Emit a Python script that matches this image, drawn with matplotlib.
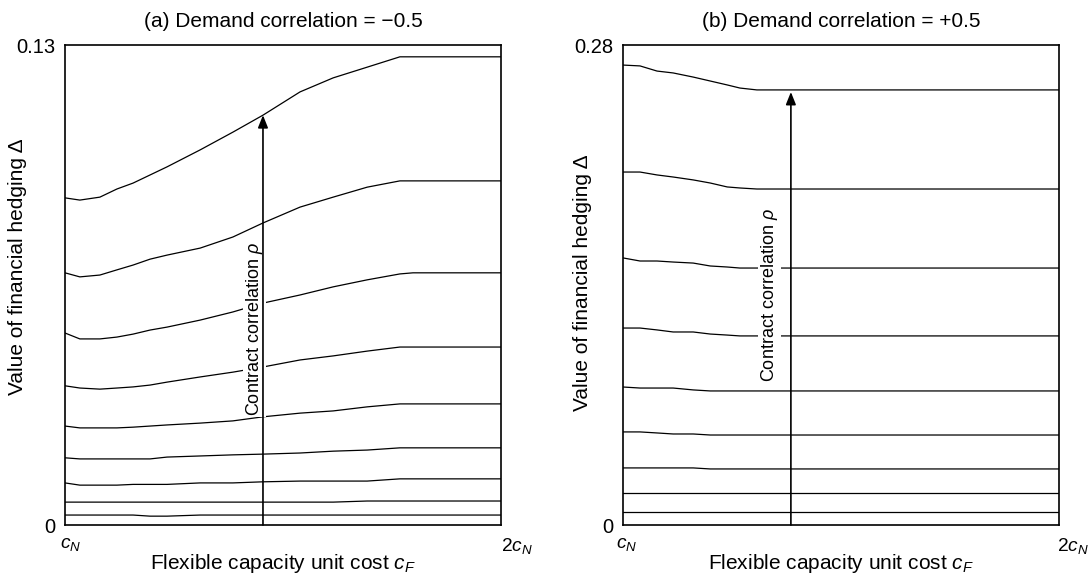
import matplotlib
matplotlib.use("Agg")
import matplotlib.pyplot as plt
import matplotlib.transforms as mtransforms

plt.rcParams['font.family'] = ['Liberation Sans', 'DejaVu Sans']
plt.rcParams['mathtext.fontset'] = 'custom'
plt.rcParams['mathtext.rm'] = 'Liberation Sans'
plt.rcParams['mathtext.it'] = 'Liberation Sans:italic'
plt.rcParams['mathtext.bf'] = 'Liberation Sans:bold'

# ---------------- data ----------------
# x in units of c_N (from c_N to 2 c_N)
x_left = [1.000, 1.034, 1.080, 1.119, 1.156, 1.195, 1.234, 1.310, 1.385,
          1.454, 1.539, 1.615, 1.693, 1.768, 1.798, 2.000]
left_curves = [
    [0.0886, 0.0880, 0.0888, 0.0910, 0.0926, 0.0948, 0.0970, 0.1016, 0.1064,
     0.1110, 0.1173, 0.1211, 0.1240, 0.1268, 0.1268, 0.1268],
    [0.0683, 0.0672, 0.0677, 0.0691, 0.0704, 0.0720, 0.0731, 0.0750, 0.0780,
     0.0818, 0.0861, 0.0888, 0.0915, 0.0932, 0.0932, 0.0932],
    [0.0520, 0.0504, 0.0504, 0.0509, 0.0517, 0.0528, 0.0536, 0.0555, 0.0577,
     0.0601, 0.0623, 0.0645, 0.0664, 0.0680, 0.0683, 0.0683],
    [0.0377, 0.0371, 0.0368, 0.0371, 0.0374, 0.0379, 0.0387, 0.0401, 0.0414,
     0.0428, 0.0447, 0.0458, 0.0471, 0.0482, 0.0482, 0.0482],
    [0.0268, 0.0263, 0.0263, 0.0263, 0.0265, 0.0268, 0.0271, 0.0276, 0.0282,
     0.0293, 0.0303, 0.0309, 0.0320, 0.0328, 0.0328, 0.0328],
    [0.0182, 0.0179, 0.0179, 0.0179, 0.0179, 0.0179, 0.0184, 0.0187, 0.0190,
     0.0192, 0.0195, 0.0200, 0.0203, 0.0209, 0.0209, 0.0209],
    [0.0114, 0.0108, 0.0108, 0.0108, 0.0110, 0.0110, 0.0110, 0.0114, 0.0114,
     0.0117, 0.0119, 0.0119, 0.0119, 0.0125, 0.0125, 0.0125],
    [0.0062, 0.0062, 0.0062, 0.0062, 0.0062, 0.0062, 0.0062, 0.0062, 0.0062,
     0.0062, 0.0062, 0.0062, 0.0065, 0.0065, 0.0065, 0.0065],
    [0.0027, 0.0027, 0.0027, 0.0027, 0.0027, 0.0024, 0.0024, 0.0027, 0.0027,
     0.0027, 0.0027, 0.0027, 0.0027, 0.0027, 0.0027, 0.0027],
]

x_right = [1.000, 1.039, 1.078, 1.115, 1.161, 1.200, 1.239, 1.268, 1.307, 2.000]
right_curves = [
    [0.2683, 0.2678, 0.2648, 0.2637, 0.2613, 0.2590, 0.2567, 0.2549, 0.2538, 0.2538],
    [0.2059, 0.2059, 0.2042, 0.2030, 0.2013, 0.1995, 0.1972, 0.1966, 0.1960, 0.1960],
    [0.1558, 0.1540, 0.1540, 0.1534, 0.1528, 0.1511, 0.1505, 0.1499, 0.1499, 0.1499],
    [0.1149, 0.1149, 0.1138, 0.1126, 0.1126, 0.1114, 0.1108, 0.1103, 0.1103, 0.1103],
    [0.0805, 0.0799, 0.0799, 0.0799, 0.0788, 0.0782, 0.0782, 0.0782, 0.0782, 0.0782],
    [0.0543, 0.0543, 0.0537, 0.0531, 0.0531, 0.0525, 0.0525, 0.0525, 0.0525, 0.0525],
    [0.0333, 0.0333, 0.0333, 0.0333, 0.0333, 0.0327, 0.0327, 0.0327, 0.0327, 0.0327],
    [0.0187, 0.0187, 0.0187, 0.0187, 0.0187, 0.0187, 0.0187, 0.0187, 0.0187, 0.0187],
    [0.0076, 0.0076, 0.0076, 0.0076, 0.0076, 0.0076, 0.0076, 0.0076, 0.0076, 0.0076],
]

titles = ["(a) Demand correlation = \u22120.5", "(b) Demand correlation = +0.5"]
y_max = [0.13, 0.28]
y_tick_labels = [["0", "0.13"], ["0", "0.28"]]
x_tick_values = [1.0, 2.0]
x_tick_labels = ["$c_N$", "$2c_N$"]
arrow_x = [1.454, 1.385]
arrow_top = [0.1110, 0.2526]
arrow_text = "Contract correlation $\\rho$"
arrow_text_pos = [(1.434, 0.0530), (1.335, 0.1342)]
ylabel_pos = [(-0.110, 0.5375), (-0.094, 0.504)]
ylabel = "Value of financial hedging \u0394"
xlabel = "Flexible capacity unit cost $c_F$"

# ---------------- figure ----------------
fig = plt.figure(figsize=(10.89, 5.77), dpi=100)
ax_pos = [[0.0597, 0.0901, 0.4004, 0.8319], [0.5721, 0.0901, 0.4004, 0.8319]]
# horizontal offsets (px) of the x tick labels (left-aligned)
xtick_offsets = [[-5, 0], [-7, -2]]

FS = 15
for i in range(2):
    ax = fig.add_axes(ax_pos[i])
    xs = x_left if i == 0 else x_right
    curves = left_curves if i == 0 else right_curves
    for ys in curves:
        ax.plot(xs, ys, color='black', lw=0.9, zorder=2)
    ax.set_xlim(1.0, 2.0)
    ax.set_ylim(0, y_max[i])
    ax.set_yticks([0, y_max[i]])
    ax.set_yticklabels(y_tick_labels[i], fontsize=FS - 0.5)
    ax.set_xticks(x_tick_values)
    ax.set_xticklabels(x_tick_labels, fontsize=13.8)
    ax.tick_params(axis='both', length=0)
    ax.tick_params(axis='y', pad=7)
    ax.tick_params(axis='x', pad=8)
    for lab, off in zip(ax.get_xticklabels(), xtick_offsets[i]):
        lab.set_horizontalalignment('left')
        lab.set_transform(lab.get_transform() +
                          mtransforms.ScaledTranslation(off / 100, 0, fig.dpi_scale_trans))
    for sp in ax.spines.values():
        sp.set_linewidth(1.2)
    ax.text(0.5, 1.05, titles[i], transform=ax.transAxes, ha='center', va='center',
            fontsize=FS)
    ax.text(ylabel_pos[i][0], ylabel_pos[i][1], ylabel, transform=ax.transAxes,
            rotation=90, ha='center', va='center', fontsize=FS)
    ax.text(0.5, -0.081, xlabel, transform=ax.transAxes, ha='center', va='center',
            fontsize=FS)
    ax.annotate("", xy=(arrow_x[i], arrow_top[i]), xytext=(arrow_x[i], 0),
                arrowprops=dict(arrowstyle='-|>,head_length=0.75,head_width=0.3',
                                color='black', lw=1.2, shrinkA=0, shrinkB=0),
                zorder=4)
    ax.text(arrow_text_pos[i][0], arrow_text_pos[i][1], arrow_text, rotation=90,
            ha='center', va='center', fontsize=13, zorder=3,
            bbox=dict(facecolor='white', edgecolor='none', pad=0.8))

fig.savefig("out.png", dpi=100)
